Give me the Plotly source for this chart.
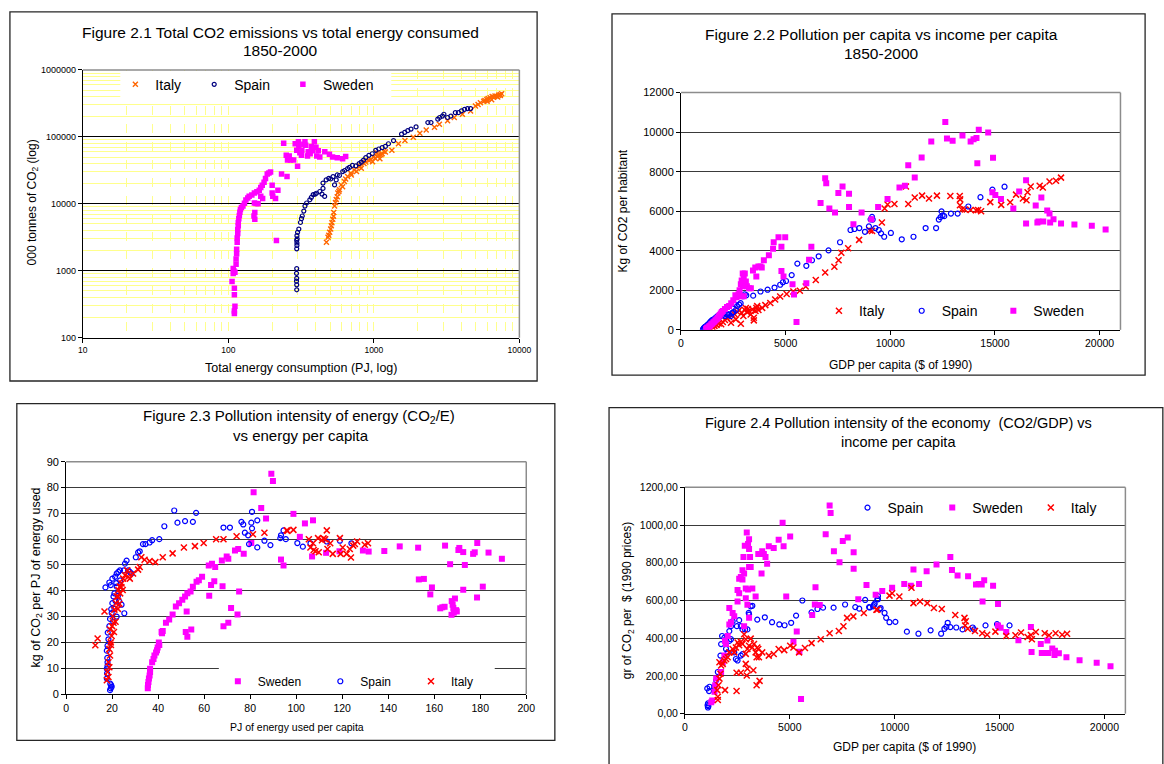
import plotly.graph_objects as go

W, H = 1164, 764
FONT = "Liberation Sans, Arial, Helvetica, sans-serif"

# ======================= DATA =======================
# Figure 2.1 : [total energy consumption (PJ), total CO2 emissions (000 t)]
f21_sweden = [[110,230],[110,250],[111,295],[110,440],[110,550],[106,690],[108,910],[109,1000],[108,1085],[111,950],
 [113,1250],[113,1500],[114,1800],[114,2100],[115,2670],[115,3100],[116,3600],[116,4150],[117,4700],[117,5270],
 [118,6000],[119,6700],[120,7500],[121,8200],[123,8800],[126,9300],[129,10200],[132,11400],[136,12200],[139,13000],
 [145,13600],[151,14500],[157,15200],[163,16000],[167,17500],[171,19000],[176,21000],[180,24000],[185,28000],[190,29000],
 [195,30000],[151,10300],[155,10100],[152,7400],[152,5900],[150,6600],[160,10000],[167,13000],[172,12000],[200,19000],
 [200,14500],[202,13000],[211,12000],[219,16000],[214,2840],[232,28000],[253,25700],[240,80500],[250,53000],[255,45000],
 [262,52000],[267,45000],[281,45000],[288,79000],[299,36600],[295,63000],[303,85000],[305,72000],[320,63000],[318,53000],
 [336,85000],[340,75000],[354,60000],[350,52000],[372,72000],[380,62000],[390,85000],[400,70000],[405,52000],[425,50000],
 [460,60000],[495,55000],[520,50000],[560,49000],[610,47000],[640,51000],[310,58000],[330,78000],[365,56000],[415,62000]]
f21_spain = [[295,520],[295,617],[294,700],[295,770],[294,915],[295,1080],[295,2130],[296,2390],[295,2840],[296,3350],
 [299,3750],[296,2600],[297,3000],[305,4200],[313,5260],[318,6000],[322,6580],[330,7800],[336,9250],[345,10300],
 [363,11500],[383,13700],[403,14400],[425,15300],[447,17000],[459,12900],[440,14000],[395,14000],[372,12500],[447,20400],
 [470,22800],[524,25500],[537,19200],[551,22800],[580,26500],[611,30300],[660,33500],[713,37500],[751,36800],[792,40000],
 [880,49000],[925,53000],[975,56000],[1030,63000],[1080,66000],[1140,69000],[1200,72000],[1260,79000],[1365,88000],[1550,110000],
 [1630,117000],[1710,124000],[1800,131000],[1950,141000],[2350,164000],[2470,164000],[2750,184000],[2830,195000],[2960,205000],[3030,218000],
 [3210,195000],[3380,205000],[3630,230000],[3810,230000],[4000,245000],[4200,258000],[4400,265000],[4620,265000],
 [490,24000],[505,23500],[560,27000],[630,31500],[680,35000],[820,42000],[850,45000]]
f21_italy = [[472,2670],[484,3160],[497,3750],[510,4700],[522,5880],[530,7400],[537,9250],[551,11600],[565,14500],[580,16200],
 [596,19200],[627,21600],[660,25700],[695,28600],[732,32000],[792,35800],[855,40000],[925,44500],[1000,50000],[1080,53000],
 [1140,56000],[1200,59600],[1330,63000],[1475,78900],[1635,88300],[1865,99000],[2070,113000],[2290,127000],[2610,139000],[2820,155000],
 [3210,174000],[3570,195000],[4060,218000],[4620,244000],[4990,289000],[5400,324000],[5690,342000],[5980,363000],[6300,384000],[6640,392000],
 [7000,405000],[7370,429000],[7560,440000],
 [490,3400],[505,4200],[515,5200],[528,6500],[545,10500],[560,12800],[575,15300],[610,18000],[640,23500],[700,27000],
 [760,30500],[800,37000],[820,34000],[880,42000],[950,46000],[980,42500],[1020,48000],[1060,51000],[1100,47000],[1120,54000],
 [1050,58000],[1170,61000],[5800,350000],[6100,375000],[6450,360000],[6800,410000],[7100,395000],[7200,420000],[5200,305000],[6000,340000],
 [6500,400000],[7400,415000]]
f21_xticks = [10, 100, 1000, 10000]
f21_yticks = [100, 1000, 10000, 100000, 1000000]

# Figure 2.2 : [GDP per capita ($ of 1990), kg of CO2 per habitant]
f22_italy = [[1320,30],[1400,80],[1500,150],[1600,200],[1700,250],[1800,320],[1920,280],[2000,400],[2100,500],[2200,600],
 [2300,650],[2390,360],[2450,750],[2550,800],[2620,530],[2700,900],[2780,1000],[2860,310],[2900,850],[2980,700],
 [3050,1000],[3100,1100],[3150,900],[3200,1050],[3250,950],[3330,780],[3410,1030],[3480,610],[3480,480],[3560,950],
 [3600,1100],[3640,1200],[3700,1000],[3880,1110],[4030,1250],[4270,1360],[4500,1530],[4740,1690],[5050,1810],[5370,1940],
 [5680,1980],[5960,2190],[6440,2520],[6890,2900],[7330,3190],[7530,3520],[7660,3900],[7990,4130],[8510,4550],[9030,5030],
 [9130,5000],[9600,5430],[9730,6140],[9870,6340],[10200,6370],[10750,7250],[10860,6370],[11170,6690],[11520,6790],[11850,6640],
 [12230,6790],[12870,6770],[13320,6770],[13340,6600],[13330,6300],[13420,6090],[13560,6090],[13840,6060],[14100,6050],[14200,6060],
 [14340,6000],[14780,6460],[15300,6320],[15730,6450],[16010,6840],[16340,6640],[16510,6560],[16560,6960],[16710,7250],[17140,7290],
 [17290,7200],[17610,7500],[17920,7540],[18160,7700]]
f22_spain = [[1050,35],[1080,60],[1100,90],[1120,120],[1150,150],[1200,180],[1250,230],[1290,270],[1350,330],[1400,400],
 [1450,450],[1500,500],[1550,480],[1600,550],[1650,600],[1700,650],[1760,700],[1800,620],[1850,680],[1900,720],
 [2000,750],[2100,700],[2200,780],[2230,800],[2300,760],[2380,700],[2450,850],[2500,900],[2550,1300],[2620,1000],
 [2680,1200],[2780,1280],[2850,1350],[2980,1700],[3050,1800],[3120,1750],[3450,1730],[3800,1940],[4140,2030],[4470,2140],
 [4740,2280],[4870,2410],[5020,2470],[5290,2770],[5560,3350],[5990,3240],[6260,3520],[6580,3720],[7050,4020],[7600,4430],
 [8100,5050],[8290,5100],[8520,5150],[8790,4960],[8980,5230],[9060,5590],[9130,5710],[9160,5580],[9290,5150],[9450,5050],
 [9560,4880],[9710,4710],[10030,4900],[10550,4580],[11110,4710],[11690,5150],[12190,5150],[12320,5580],[12400,5700],[12500,5790],
 [12580,5750],[12450,5990],[12900,5880],[13220,5880],[13730,6240],[14310,6710],[14880,7090],[15460,7240]]
f22_sweden = [[1200,50],[1250,100],[1300,120],[1350,180],[1400,220],[1450,280],[1500,320],[1550,380],[1600,420],[1650,480],
 [1700,540],[1750,600],[1800,680],[1850,750],[1900,820],[1950,900],[2000,950],[2100,1050],[2200,1150],[2300,1200],
 [2400,1350],[2500,1500],[2600,1750],[2650,1650],[2750,1800],[2800,2000],[2860,2300],[2900,2500],[2950,2200],[3000,2700],
 [3050,2850],[2950,2850],[3100,2450],[2850,1700],[3000,1700],[3150,2200],[3250,2100],[3340,2100],[3440,3000],[3550,3150],
 [3600,2700],[3700,3200],[3800,3200],[3860,3150],[3960,3520],[4200,3770],[4430,4430],[4400,4100],[4660,4680],[4800,4200],
 [4980,4680],[4800,2970],[4900,2700],[5330,2300],[5400,1790],[5520,400],[5990,2360],[6120,3540],[6230,4200],[6670,6420],
 [6890,7670],[6940,7420],[7090,6140],[7360,5930],[7520,6920],[7720,7250],[8030,6890],[8030,6220],[8240,5340],[8630,5930],
 [9100,5600],[9420,6220],[9870,6620],[10440,7200],[10700,7290],[10860,8330],[11170,7700],[11500,8720],[11960,9530],[12630,10520],
 [12710,9680],[12980,9560],[13450,9830],[13840,9530],[13980,9640],[14120,9710],[14230,10120],[14160,8430],[14680,9980],[14910,8700],
 [14880,6960],[15020,6820],[15290,6620],[15880,6140],[16160,7000],[16490,7570],[16490,5380],[16950,6290],[17030,5430],[17080,5480],
 [17220,6690],[17310,5480],[17500,6040],[17610,5880],[17640,5430],[17800,5590],[18160,5380],[18800,5330],[19630,5260],[20290,5080]]
f22_xticks = [0, 5000, 10000, 15000, 20000]
f22_yticks = [0, 2000, 4000, 6000, 8000, 10000, 12000]

# Figure 2.3 : [PJ of energy used per capita, kg of CO2 per PJ of energy used]
f23_sweden = [[35.5,2.2],[35.6,3.5],[35.8,4.7],[36,6],[36.3,7.2],[36.5,8.5],[36.5,9.8],[37.4,12.3],[38,13.6],[38.4,14.9],
 [39.1,16.1],[39.5,17],[39.8,18],[40.3,20],[40.5,19],[41.7,23.5],[42,24.4],[41.5,24],[43.4,27.6],[44.8,28.9],
 [46.3,30.8],[47.7,33.9],[49.1,35.2],[50.5,36.5],[51.7,37.8],[52.7,39],[54.1,39.7],[55.1,41.6],[56.7,43.5],[57.7,44.1],
 [59.1,45.4],[62,49.8],[63.4,50.5],[64.8,49.2],[67.7,51.7],[69.8,53.3],[70.5,52.4],[73.4,55.6],[74.8,56.2],[77.2,54.3],
 [80.5,58.5],[81.5,78.2],[84.8,72.1],[86.9,68],[89.2,85.3],[89.9,82.5],[93.4,52.1],[94.5,49.8],
 [52.4,32],[52,24],[52.7,22.2],[54.4,25],[62.2,38.1],[63,42.2],[64.4,43.7],[68,41.8],[68.4,26.3],[70.5,27.6],
 [71.7,33.3],[74.5,30.8],[75.2,39.7],
 [98.8,69.8],[101.6,60.9],[103.8,66.1],[107.3,67.3],[106.9,53.3],[113,54.7],[118.8,55.3],[129,55.6],[131.5,55.2],[138.3,55.4],
 [145,57.2],[153,56.7],[164.7,57.5],[166.9,50.3],[170.5,55.8],[170.9,56.6],[172.6,55],[173.3,50],[176.9,54.3],[177.6,54.9],
 [178.7,58.5],[183.6,54.8],[189.4,52.4],[153.3,44.4],[155.5,44.6],[159,41.3],[158.3,38.6],[172.6,40.4],[181.1,41.6],[178.6,37.4],
 [167.6,36],[169,37],[162.6,33.2],[163.5,33.6],[164.5,33.8],[168,34.6],[168.3,33.4],[169.5,32.5],[168.5,31.5],[167.5,30.7],[169.8,32]]
f23_spain = [[19.1,1.5],[19.4,2.2],[19.8,2.8],[19.6,3.4],[19.2,4],[17.7,6],[17.8,8],[17.7,9.8],[18,11],[18,12.3],
 [17.9,14],[17.7,16.8],[18,18.7],[18.4,21.2],[18.1,23.8],[18.8,26.3],[19.1,29.1],[19.8,31.4],[19.6,32.9],[20.1,35.2],
 [20.6,37.8],[21,39],[22,41.6],[20.1,44.7],[21.3,45.4],[22,46.7],[22.7,47.3],[23.4,47.9],[17.1,41.3],[18.8,43.2],
 [19.4,42.2],[25.1,47.9],[25.6,50.5],[26.3,51.7],[27,47.9],[27.7,47.3],[28.4,46.7],[25.3,31.3],[24.1,34.6],[30.3,53],
 [31.3,54.9],[32,55.3],[33.4,58.1],[34.5,58.1],[36.3,58.7],[37.4,59.6],[40.5,60],[42.7,65],[47,71.1],[48.4,66.4],
 [51.7,67],[55.1,66.7],[56.5,70.2],[68.4,64.5],[71.2,64.5],[76.2,66.7],[77,65.7],[77.7,62.5],[79.1,61.5],[79.5,58.1],
 [80.8,64.2],[80.5,66.4],[80.8,70.6],[83.1,67.3],[83.1,56.8],[86.2,59.4],[88.8,57.7],[93.1,60.4],[93.4,61.5],[94.5,63.4],
 [95.5,60],[100.5,58.5],[102.9,57.1],[106.2,58.4],[113.3,59.1],[119,59.4],[124,58.4],
 [21,33],[21.5,36],[22.5,38],[23,36],[22,30],[20.5,28],[21.8,43],[23.5,44]]
f23_italy = [[12.7,18.9],[13.7,21.5],[16.7,32],[17.7,5.3],[18.4,6.6],[18,8.5],[18.8,10.4],[18.4,12.3],[19.1,14.9],[18.8,17.4],
 [19.4,20],[19.8,22.5],[19.1,25],[20,26.3],[20.6,27.6],[20.3,30.1],[21,32.7],[21.7,35.2],[22,37.8],[22.7,40.3],
 [23.4,41.6],[24.1,42.8],[24.6,40.3],[22.7,37.8],[23.5,39],[24,41.5],[23.2,35],[22.5,33],[21.5,28],[20.8,24],
 [19.5,19],[24.8,44.7],[25.6,46],[26.6,47.9],[27,45.4],[27.7,44.7],[29.1,46.7],[31.3,48.2],[32,49.2],[32.7,53],
 [34.1,52],[36.3,51.5],[38.8,51.1],[42,53],[46.3,54.5],[51.2,56.8],[56,57.3],[59.8,58.5],[65.2,60],[68.4,60],
 [74.1,61.1],[81.2,61.9],[86.2,62.5],[95.9,63.4],[96.2,63.2],[98.8,63.6],[105.5,60],[107.3,58.4],[106.2,56.8],[108.4,55.3],
 [109.8,54.9],[107.6,55.8],[109.5,60.4],[111.2,59.6],[111.9,60.3],[112.6,60],[113.3,63.4],[113.6,56.2],[114.8,58.4],[115.9,54.3],
 [119,60.4],[119.3,54.3],[120.2,56.8],[121.9,54.3],[123.3,56.2],[123.8,52.9],[124.8,57.5],[125.5,58.1],[126.5,59.1],[129.8,57.8],
 [131.2,58.4]]
f23_xticks = [0, 20, 40, 60, 80, 100, 120, 140, 160, 180, 200]
f23_yticks = [0, 10, 20, 30, 40, 50, 60, 70, 80, 90]

# Figure 2.4 : [GDP per capita ($ of 1990), gr of CO2 per $ (1990 prices)]
f24_spain = [[1098,33],[1080,45],[1120,40],[1100,55],[1066,134],[1176,143],[1150,120],[1411,143],[1490,177],[1568,221],
 [1693,308],[1725,369],[1772,412],[1882,403],[1960,343],[2038,325],[2117,386],[2195,395],[2195,464],[2274,490],
 [2117,438],[2352,325],[2431,290],[2509,282],[2666,308],[2744,316],[2477,464],[2587,496],[2666,464],[2744,447],
 [2870,447],[2979,447],[3042,534],[3058,525],[3136,569],[3214,572],[3450,499],[3810,511],[4155,485],[4500,473],
 [4751,469],[5065,482],[5300,520],[5598,600],[6037,537],[6319,555],[6586,562],[7088,562],[7636,579],[8122,565],
 [8310,557],[8593,603],[8781,565],[9016,576],[9173,607],[9330,560],[8812,563],[8969,569],[9047,583],[9204,607],
 [9204,624],[9283,555],[9518,534],[9596,508],[9753,485],[10035,487],[10582,435],[11133,424],[11713,442],[12215,424],
 [12371,450],[12465,461],[12528,482],[12654,459],[12936,457],[13234,447],[13720,457],[13783,447],[14331,468],[14880,475],
 [14920,465],[15476,468]]
f24_sweden = [[1254,61],[1300,70],[1411,117],[1443,151],[1490,186],[1725,221],[1803,273],[1882,308],[1960,369],[1913,386],
 [2038,412],[2117,473],[2195,485],[2117,560],[2274,534],[2352,516],[2509,595],[2587,638],[2509,656],[2587,716],
 [2666,725],[2744,711],[2822,743],[2744,760],[2901,664],[2901,612],[2822,464],[3058,508],[2791,830],[2854,890],
 [2948,960],[3010,899],[3058,925],[3058,873],[3105,830],[3136,777],[3058,777],[3010,659],[3214,664],[3371,621],
 [2979,577],[3497,847],[3685,861],[3763,847],[3842,830],[3920,795],[3653,743],[3998,887],[4234,878],[4469,922],
 [4657,1012],[4704,887],[5018,939],[4830,621],[5331,436],[5457,329],[5174,381],[5535,78],[6068,523],[6194,579],
 [6225,670],[6429,576],[6711,951],[6899,1104],[6946,1064],[7103,861],[7370,803],[7526,916],[7762,934],[8044,856],
 [8044,769],[8264,607],[8656,682],[9094,630],[9408,650],[9879,668],[10457,687],[10896,765],[10770,678],[11163,687],
 [11524,755],[11995,791],[12654,830],[12732,762],[12999,732],[13500,729],[13877,685],[14000,688],[14150,685],[14268,708],
 [14190,595],[14692,678],[14927,581],[14927,468],[15053,456],[15319,433],[15899,390],[16495,459],[16527,327],[16966,369],
 [17013,322],[17076,322],[17280,388],[17327,322],[17515,346],[17640,334],[17620,311],[17828,320],[18189,299],[18815,283],
 [19631,270],[20290,252]]
f24_italy = [[1568,90],[1537,125],[1568,73],[1600,151],[1646,186],[1693,212],[1725,256],[1803,264],[1646,273],[1882,282],
 [1960,290],[2038,299],[1913,125],[2117,325],[2274,343],[2352,325],[2431,351],[2509,377],[2587,363],[2666,381],
 [2744,369],[2822,421],[2901,395],[2979,343],[2901,317],[2901,264],[2979,238],[2948,203],[2666,217],[2462,217],
 [2462,120],[3058,360],[3136,398],[3214,351],[3293,369],[3371,325],[3261,230],[3418,299],[3497,343],[3528,299],
 [3450,351],[3418,151],[3559,174],[3685,325],[3998,308],[4234,316],[4469,343],[4735,337],[5018,360],[5174,351],
 [5441,325],[5723,348],[6037,374],[6476,395],[6899,426],[7338,438],[7558,464],[7730,508],[8028,516],[8530,534],
 [9173,551],[9127,551],[9753,626],[9879,638],[10223,621],[10802,668],[10896,586],[11210,595],[11556,586],[11870,560],
 [12246,555],[12889,523],[13328,508],[13390,490],[13359,468],[13485,450],[13830,438],[14174,426],[14410,419],[14802,435],
 [15319,412],[15758,416],[16025,430],[16338,407],[16495,417],[16542,395],[16730,433],[17154,426],[17358,416],[17672,426],
 [17985,419],[18220,424]]
f24_xticks = [0, 5000, 10000, 15000, 20000]
f24_yticks = [0, 200, 400, 600, 800, 1000, 1200]
f24_yticklabels = ["0,00", "200,00", "400,00", "600,00", "800,00", "1000,00", "1200,00"]

# ======================= STYLE / LAYOUT HELPERS =======================
def px(v):
    return v / W


def py(v):
    return 1 - v / H


YEL = "#FFFF8C"
GRID = "#3a3a3a"
FRAME = "#8c8c8c"

st_sweden = dict(symbol="square", size=6, color="#FF00FF", line=dict(width=0))
st_spain = dict(symbol="circle-open", size=5, color="#0000FF", line=dict(width=1.2, color="#0000FF"))
st_italy = dict(symbol="x-thin-open", size=6, color="#FF0000", line=dict(width=1.5, color="#FF0000"))
st_sweden21 = dict(symbol="square", size=5.5, color="#FF00FF", line=dict(width=0))
st_spain21 = dict(symbol="circle-open", size=4, color="#000080", line=dict(width=1.2, color="#000080"))
st_italy21 = dict(symbol="x-thin-open", size=5, color="#FF6600", line=dict(width=1.4, color="#FF6600"))

fig = go.Figure()


def add(pairs, name, ax, style, leg):
    fig.add_trace(go.Scatter(
        x=[p[0] for p in pairs], y=[p[1] for p in pairs], mode="markers", name=name,
        marker=style, xaxis="x" + ax, yaxis="y" + ax, legend=leg, hoverinfo="skip"))


# panel 1
add(f21_italy, "Italy", "", st_italy21, "legend")
add(f21_spain, "Spain", "", st_spain21, "legend2")
add(f21_sweden, "Sweden", "", st_sweden21, "legend3")
# panel 2
add(f22_italy, "Italy", "2", st_italy, "legend4")
add(f22_spain, "Spain", "2", st_spain, "legend5")
add(f22_sweden, "Sweden", "2", st_sweden, "legend6")
# panel 3
add(f23_sweden, "Sweden", "3", st_sweden, "legend7")
add(f23_spain, "Spain", "3", st_spain, "legend8")
add(f23_italy, "Italy", "3", st_italy, "legend9")
# panel 4
add(f24_spain, "Spain", "4", st_spain, "legend10")
add(f24_sweden, "Sweden", "4", st_sweden, "legend11")
add(f24_italy, "Italy", "4", st_italy, "legend12")


def tfont(s):
    return dict(size=s, family=FONT, color="black")


common = dict(ticks="outside", ticklen=4, tickwidth=1, tickcolor="black", showline=True,
              linecolor="black", linewidth=1, zeroline=False, fixedrange=True, tickmode="array")

minor_x = [m * 10 ** e for e in range(1, 4) for m in range(2, 10)]
minor_y = [m * 10 ** e for e in range(2, 6) for m in range(2, 10)]

layout = dict(
    width=W, height=H, autosize=False, margin=dict(l=0, r=0, t=0, b=0),
    paper_bgcolor="white", plot_bgcolor="white", showlegend=True,
    font=dict(family=FONT, color="black"),
    xaxis=dict(domain=[px(79), px(522)], anchor="y", type="log", range=[1, 4],
               tickvals=f21_xticks, ticktext=[str(v) for v in f21_xticks], tickfont=tfont(8.5),
               showgrid=True, gridcolor=YEL, gridwidth=1, griddash="dash",
               minor=dict(tickmode="array", tickvals=minor_x, showgrid=True, gridcolor=YEL,
                          gridwidth=1, griddash="dash", ticks=""),
               **common),
    yaxis=dict(domain=[py(337), py(65)], anchor="x", type="log", range=[2, 6],
               tickvals=f21_yticks, ticktext=[str(v) for v in f21_yticks], tickfont=tfont(9),
               showgrid=True, gridcolor="black", gridwidth=1,
               minor=dict(tickmode="array", tickvals=minor_y, showgrid=True, gridcolor=YEL,
                          gridwidth=1, ticks=""),
               **common),
    xaxis2=dict(domain=[px(686), px(1132)], anchor="y2", range=[0, 21000],
                tickvals=f22_xticks, ticktext=[str(v) for v in f22_xticks], tickfont=tfont(10.5),
                showgrid=False, **common),
    yaxis2=dict(domain=[py(329), py(88)], anchor="x2", range=[0, 12000],
                tickvals=f22_yticks, ticktext=[str(v) for v in f22_yticks], tickfont=tfont(11),
                showgrid=True, gridcolor=GRID, **common),
    xaxis3=dict(domain=[px(62), px(529)], anchor="y3", range=[0, 200],
                tickvals=f23_xticks, ticktext=[str(v) for v in f23_xticks], tickfont=tfont(10.5),
                showgrid=False, **common),
    yaxis3=dict(domain=[py(699), py(463)], anchor="x3", range=[0, 90],
                tickvals=f23_yticks, ticktext=[str(v) for v in f23_yticks], tickfont=tfont(11),
                showgrid=True, gridcolor=GRID, **common),
    xaxis4=dict(domain=[px(690), px(1137)], anchor="y4", range=[0, 21000],
                tickvals=f24_xticks, ticktext=[str(v) for v in f24_xticks], tickfont=tfont(10.5),
                showgrid=False, **common),
    yaxis4=dict(domain=[py(719), py(489)], anchor="x4", range=[0, 1200],
                tickvals=f24_yticks, ticktext=f24_yticklabels, tickfont=tfont(10.5),
                showgrid=True, gridcolor=GRID, **common),
)

# legends: one entry each; (key, marker centre x px, row y px, font size)
leg_specs = [
    ("legend", 143, 80, 14), ("legend2", 223, 80, 14), ("legend3", 313, 80, 14),
    ("legend4", 857, 310, 14), ("legend5", 941, 310, 14), ("legend6", 1034, 310, 14),
    ("legend7", 247, 686, 12), ("legend8", 351, 686, 12), ("legend9", 443, 686, 12),
    ("legend10", 886, 510, 14), ("legend11", 972, 510, 14), ("legend12", 1072, 510, 14),
]
for key, mx, my, fs in leg_specs:
    layout[key] = dict(x=px(mx - 31), y=py(my), xanchor="left", yanchor="middle",
                       bgcolor="rgba(0,0,0,0)", borderwidth=0, orientation="h",
                       font=tfont(fs), itemclick=False, itemdoubleclick=False)

shapes = []


def rect(x0, y0, x1, y1, color, width, fill=None, layer="above"):
    shapes.append(dict(type="rect", xref="paper", yref="paper", x0=px(x0), x1=px(x1),
                       y0=py(y0), y1=py(y1), line=dict(color=color, width=width),
                       fillcolor=fill if fill else "rgba(0,0,0,0)", layer=layer))


def line(x0, y0, x1, y1, color, width):
    shapes.append(dict(type="line", xref="paper", yref="paper", x0=px(x0), x1=px(x1),
                       y0=py(y0), y1=py(y1), line=dict(color=color, width=width), layer="above"))


# legend backgrounds hiding grid lines (as in the original)
rect(117, 66, 392, 94, "rgba(0,0,0,0)", 0, fill="white")
rect(217, 666, 497, 697, "rgba(0,0,0,0)", 0, fill="white")

# plot-area frames (grey top / right)
for (l, t, r, b) in [(79, 65, 522, 337), (686, 88, 1132, 329), (62, 463, 529, 699), (690, 489, 1137, 719)]:
    line(l, t, r, t, FRAME, 1.5)
    line(r, t, r, b, FRAME, 1.5)

# outer chart boxes
rect(5, 6, 540, 381, "#262626", 1.3, layer="below")
rect(616, 8, 1157, 375, "#262626", 1.3, layer="below")
rect(12, 404, 558, 746, "#262626", 1.3, layer="below")
rect(613, 408, 1175, 775, "#262626", 1.3, layer="below")
layout["shapes"] = shapes

annotations = []


def ann(text, x, y, size, angle=0):
    annotations.append(dict(text=text, x=px(x), y=py(y), xref="paper", yref="paper",
                            showarrow=False, font=tfont(size), textangle=angle,
                            xanchor="center", yanchor="middle", align="center"))


ann("Figure 2.1 Total CO2 emissions vs total energy consumed", 280, 27, 15.5)
ann("1850-2000", 280, 45, 15.5)
ann("000 tonnes of CO<sub>2</sub> (log)", 28, 200, 12, -90)
ann("Total energy consumption (PJ, log)", 300, 368, 12.5)

ann("Figure 2.2 Pollution per capita vs income per capita", 889, 29, 15.5)
ann("1850-2000", 889, 48, 15.5)
ann("Kg of CO2 per habitant", 627, 208, 12, -90)
ann("GDP per capita ($ of 1990)", 909, 365, 12)

ann("Figure 2.3 Pollution intensity of energy (CO<sub>2</sub>/E)", 298, 417, 15)
ann("vs energy per capita", 300, 436, 15)
ann("kg of CO<sub>2</sub> per PJ of energy used", 32, 581, 12.5, -90)
ann("PJ of energy used per capita", 296, 732, 10.5)

ann("Figure 2.4 Pollution intensity of the economy  (CO2/GDP) vs", 907, 424, 14.5)
ann("income per capita", 907, 443, 14.5)
ann("gr of CO<sub>2</sub> per  $ (1990 prices)", 632, 604, 12, -90)
ann("GDP per capita ($ of 1990)", 913, 753, 12)
layout["annotations"] = annotations

fig.update_layout(**layout)
fig.write_html("out.html", config={"displayModeBar": False, "staticPlot": True},
               post_script="document.body.style.margin='0';document.body.style.overflow='hidden';")
